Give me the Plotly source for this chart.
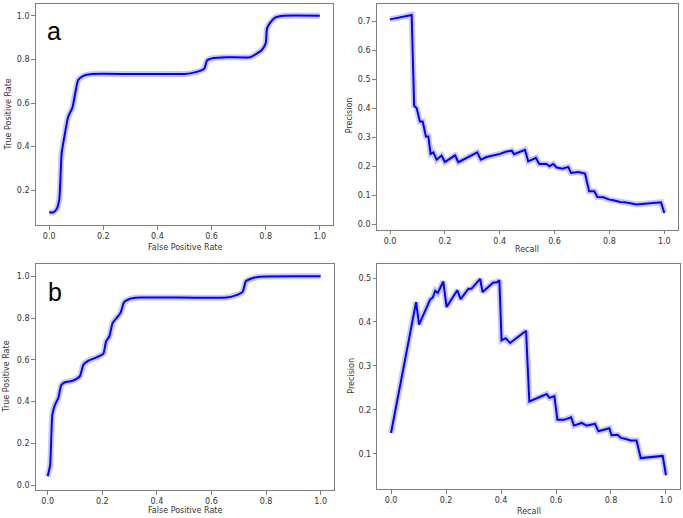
import plotly.graph_objects as go

W, H = 683, 518

# ---------------- data ----------------
roc_a_fpr = [0.0, 0.015, 0.027, 0.037, 0.046, 0.058, 0.07, 0.086, 0.107, 0.126, 0.157,
             0.3, 0.5, 0.53, 0.56, 0.574, 0.583, 0.607, 0.657, 0.743, 0.768, 0.786,
             0.8, 0.805, 0.817, 0.836, 0.867, 1.0]
roc_a_tpr = [0.099, 0.099, 0.113, 0.156, 0.37, 0.46, 0.537, 0.58, 0.705, 0.724, 0.733,
             0.733, 0.733, 0.738, 0.748, 0.759, 0.794, 0.806, 0.81, 0.81, 0.827, 0.843,
             0.873, 0.942, 0.968, 0.992, 1.0, 1.0]

pr_a_recall = [0.0, 0.079, 0.088, 0.097, 0.109, 0.119, 0.131, 0.14, 0.148, 0.158, 0.17,
               0.188, 0.2, 0.237, 0.249, 0.318, 0.331, 0.352, 0.401, 0.425, 0.444, 0.452,
               0.492, 0.504, 0.532, 0.544, 0.571, 0.581, 0.595, 0.608, 0.629, 0.65, 0.66,
               0.686, 0.711, 0.726, 0.745, 0.756, 0.778, 0.8, 0.815, 0.839, 0.857, 0.881,
               0.899, 0.988, 1.0]
pr_a_precision = [0.708, 0.723, 0.41, 0.402, 0.356, 0.356, 0.304, 0.304, 0.244, 0.249, 0.224,
                  0.238, 0.216, 0.239, 0.215, 0.249, 0.224, 0.233, 0.244, 0.252, 0.255, 0.243,
                  0.258, 0.218, 0.23, 0.209, 0.209, 0.201, 0.209, 0.197, 0.193, 0.199, 0.178,
                  0.181, 0.176, 0.115, 0.115, 0.095, 0.094, 0.086, 0.084, 0.078, 0.077, 0.071,
                  0.069, 0.077, 0.04]

roc_b_fpr = [0.0, 0.009, 0.017, 0.027, 0.039, 0.049, 0.063, 0.088, 0.106, 0.118, 0.131,
             0.149, 0.179, 0.204, 0.214, 0.226, 0.238, 0.253, 0.267, 0.28, 0.302, 0.338,
             0.656, 0.686, 0.714, 0.726, 0.747, 0.778, 1.0]
roc_b_tpr = [0.043, 0.099, 0.338, 0.386, 0.418, 0.477, 0.493, 0.499, 0.509, 0.522, 0.577,
             0.596, 0.612, 0.63, 0.689, 0.713, 0.777, 0.801, 0.825, 0.876, 0.892, 0.898,
             0.898, 0.907, 0.925, 0.976, 0.989, 0.998, 1.0]

pr_b_recall = [0.0, 0.091, 0.102, 0.124, 0.142, 0.152, 0.161, 0.17, 0.19, 0.202, 0.241,
               0.253, 0.281, 0.293, 0.324, 0.333, 0.372, 0.384, 0.394, 0.402, 0.417, 0.433,
               0.491, 0.503, 0.566, 0.576, 0.594, 0.605, 0.629, 0.655, 0.665, 0.693, 0.712,
               0.742, 0.754, 0.794, 0.802, 0.824, 0.836, 0.851, 0.872, 0.893, 0.908, 0.988,
               1.0]
pr_b_precision = [0.147, 0.445, 0.394, 0.424, 0.451, 0.456, 0.471, 0.466, 0.492, 0.434, 0.472,
                  0.452, 0.475, 0.476, 0.498, 0.468, 0.49, 0.49, 0.495, 0.358, 0.363, 0.352,
                  0.38, 0.219, 0.236, 0.227, 0.231, 0.177, 0.177, 0.183, 0.164, 0.17, 0.164,
                  0.168, 0.151, 0.158, 0.142, 0.143, 0.136, 0.134, 0.13, 0.13, 0.09, 0.095,
                  0.051]

x_ticks = [0.0, 0.2, 0.4, 0.6, 0.8, 1.0]
roc_a_yticks = [0.2, 0.4, 0.6, 0.8, 1.0]
pr_a_yticks = [0.0, 0.1, 0.2, 0.3, 0.4, 0.5, 0.6, 0.7]
roc_b_yticks = [0.0, 0.2, 0.4, 0.6, 0.8, 1.0]
pr_b_yticks = [0.1, 0.2, 0.3, 0.4, 0.5]

# ---------------- layout helpers ----------------
def fx(px):
    return px / W

def fy(px):
    return 1 - px / H

TEXT = "#333333"
SPINE = "#808080"
FONT = "DejaVu Sans"

panels = [
    dict(x=roc_a_fpr, y=roc_a_tpr, xd=(35.7, 333.3), yd=(4, 225.3),
         xr=(-0.05, 1.05), yr=(0.0396, 1.0536), yt=roc_a_yticks, shape="spline",
         xt="False Positive Rate", yt_title="True Positive Rate",
         xt_pos=(184.5, 247.5), yt_pos=(7.5, 115)),
    dict(x=pr_a_recall, y=pr_a_precision, xd=(376.7, 678), yd=(4, 229.5),
         xr=(-0.0485, 1.05), yr=(-0.017, 0.761), yt=pr_a_yticks, shape="linear",
         xt="Recall", yt_title="Precision",
         xt_pos=(527, 249.5), yt_pos=(349.3, 115)),
    dict(x=roc_b_fpr, y=roc_b_tpr, xd=(35.7, 334.3), yd=(263.7, 490.3),
         xr=(-0.044, 1.05), yr=(-0.024, 1.06), yt=roc_b_yticks, shape="spline",
         xt="False Positive Rate", yt_title="True Positive Rate",
         xt_pos=(184.5, 510.5), yt_pos=(5.7, 377)),
    dict(x=pr_b_recall, y=pr_b_precision, xd=(377.3, 680), yd=(263.7, 489),
         xr=(-0.05, 1.051), yr=(0.0196, 0.5326), yt=pr_b_yticks, shape="linear",
         xt="Recall", yt_title="Precision",
         xt_pos=(528.5, 511.5), yt_pos=(350.7, 376)),
]

fig = go.Figure()
annotations = []
for i, p in enumerate(panels, start=1):
    sfx = "" if i == 1 else str(i)
    xa, ya = "x" + sfx, "y" + sfx
    line_kw = dict(shape=p["shape"])
    if p["shape"] == "spline":
        line_kw["smoothing"] = 0.5
    # confidence band (drawn as a wide translucent stroke)
    fig.add_trace(go.Scatter(x=p["x"], y=p["y"], xaxis=xa, yaxis=ya, mode="lines",
                             line=dict(color="rgba(40,40,255,0.25)", width=6, **line_kw),
                             hoverinfo="skip", showlegend=False))
    fig.add_trace(go.Scatter(x=p["x"], y=p["y"], xaxis=xa, yaxis=ya, mode="lines",
                             line=dict(color="#0000ff", width=2, **line_kw),
                             showlegend=False))
    common = dict(showline=True, mirror=True, linecolor=SPINE, linewidth=1,
                  ticks="outside", ticklen=3.5, tickwidth=1, tickcolor=SPINE,
                  showgrid=False, zeroline=False, tickformat=".1f",
                  tickfont=dict(family=FONT, size=8, color=TEXT))
    fig.layout["xaxis" + sfx] = dict(domain=[fx(p["xd"][0]), fx(p["xd"][1])],
                                     range=list(p["xr"]), anchor=ya,
                                     tickmode="array", tickvals=x_ticks, **common)
    fig.layout["yaxis" + sfx] = dict(domain=[fy(p["yd"][1]), fy(p["yd"][0])],
                                     range=list(p["yr"]), anchor=xa,
                                     tickmode="array", tickvals=p["yt"], **common)
    annotations.append(dict(text=p["xt"], xref="paper", yref="paper",
                            x=fx(p["xt_pos"][0]), y=fy(p["xt_pos"][1]),
                            xanchor="center", yanchor="middle", showarrow=False,
                            font=dict(family=FONT, size=8, color=TEXT)))
    annotations.append(dict(text=p["yt_title"], xref="paper", yref="paper",
                            x=fx(p["yt_pos"][0]), y=fy(p["yt_pos"][1]),
                            xanchor="center", yanchor="middle", textangle=-90,
                            showarrow=False,
                            font=dict(family=FONT, size=8, color=TEXT)))

for letter, cx, cy in [("a", 54, 30.6), ("b", 54.5, 292)]:
    annotations.append(dict(text=letter, xref="paper", yref="paper",
                            x=fx(cx), y=fy(cy), xanchor="center", yanchor="middle",
                            showarrow=False,
                            font=dict(family="Liberation Sans", size=25, color="#000000")))

fig.update_layout(width=W, height=H, margin=dict(l=0, r=0, t=0, b=0),
                  paper_bgcolor="white", plot_bgcolor="white",
                  annotations=annotations, showlegend=False)

fig.write_html("out.html",
               config={"displayModeBar": False},
               post_script="document.body.style.margin='0px';"
                           "document.body.style.padding='0px';"
                           "document.body.style.overflow='hidden';")
